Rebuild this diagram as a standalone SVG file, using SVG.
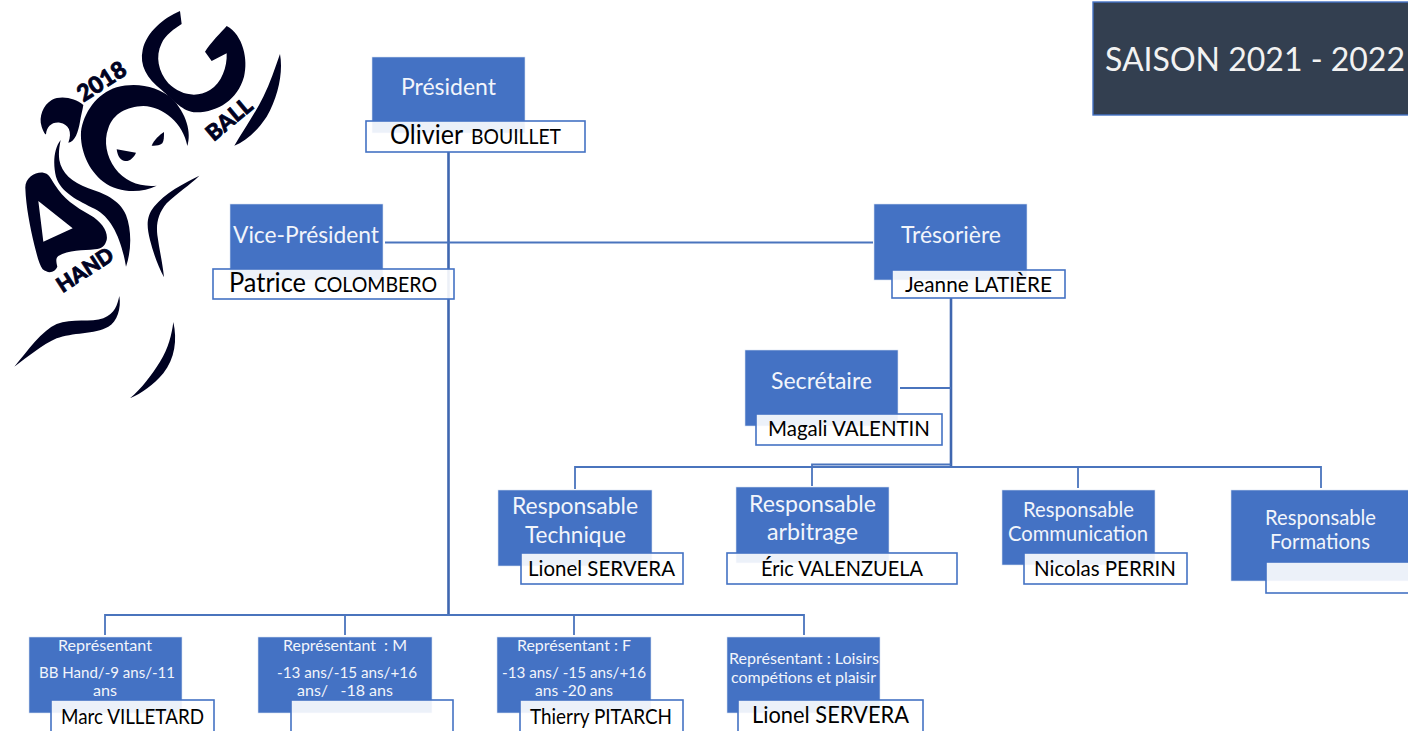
<svg xmlns="http://www.w3.org/2000/svg" width="1408" height="731" viewBox="0 0 1408 731">
<style>
text{font-family:"Lato","Carlito","Liberation Sans",sans-serif;text-anchor:start}
.b{fill:#4472C4;stroke:#D8E0F1;stroke-width:.6}
.w{fill:#fff;fill-opacity:.9;stroke:#4472C4;stroke-width:1.6}
.t{fill:#F2F5FB}
.n{fill:#000}
.c1{stroke:#3F67B0;stroke-width:2.600;fill:none}
.c2{stroke:#4A74BD;stroke-width:1.800;fill:none}
.logo{fill:#000222}
.lt{fill:#000222;stroke:#000222;stroke-width:.8;font-weight:900;text-anchor:middle}
</style>
<rect width="1408" height="731" fill="#fff"/>
<g id="logo">
<g class="logo" transform="scale(.33333)">
<path d="M540 33C490 55 440 95 428 150C418 195 440 235 485 270C520 300 550 338 590 337C655 335 712 300 732 230C745 180 730 105 680 78C665 95 630 130 615 155L635 183L680 160C682 200 665 250 630 270C590 295 540 285 505 250C475 215 465 170 485 130C495 105 525 85 545 72Z"/>
<path d="M840 162C850 215 835 290 800 350C770 395 735 425 703 437C730 390 760 350 790 290C810 250 825 205 840 162Z"/>
<path d="M562 438C575 400 560 340 515 295C475 260 410 245 350 262C290 280 250 340 243 395C240 450 265 510 310 545C355 580 425 580 470 557C420 562 375 545 345 505C320 470 310 425 325 385C340 340 380 320 430 318C490 320 550 370 562 438Z"/>
<path d="M250 315C225 295 185 285 155 300C130 315 115 350 125 380C130 395 135 403 138 403C140 380 155 365 180 368C205 372 218 395 205 428C225 425 235 395 240 365C243 345 248 330 250 315Z"/>
<path d="M350 448L408 458C402 472 390 484 375 483C358 482 352 462 350 448Z"/>
<path d="M492 396C492 410 492 422 487 430C478 437 465 438 455 437C462 420 478 405 492 396Z"/>
<path d="M182 420C162 445 158 490 168 530C183 578 235 602 285 627C335 652 365 720 378 800C395 750 395 690 378 645C358 598 310 580 265 565C215 545 185 520 178 480C175 460 178 440 182 420Z"/>
<path fill-rule="evenodd" d="M76 565C74 535 105 515 130 518C145 520 150 530 165 555C190 595 225 620 270 645C305 665 325 695 320 720C315 738 305 746 285 748C250 752 205 750 175 768C165 775 170 790 172 800C165 818 145 822 128 808C118 795 112 770 103 735C90 680 78 620 76 565ZM115 603L130 725L218 685Z"/>
<path d="M598 527C550 550 495 580 462 620C438 650 440 680 450 720C460 760 475 800 492 832C488 790 478 750 472 705C468 670 475 640 500 610C530 580 570 555 598 527Z"/>
<path d="M358 888C352 915 345 940 310 955C275 968 215 955 170 972C125 992 85 1050 43 1100C85 1070 125 1035 170 1015C215 997 285 1003 325 980C352 965 364 925 358 888Z"/>
<path d="M520 966C532 1020 525 1075 490 1120C460 1155 425 1180 390 1195C425 1165 455 1125 480 1085C505 1045 515 1005 520 966Z"/>
</g>
<text class="lt" font-size="23" transform="translate(106,88) rotate(-33)">2018</text>
<text class="lt" font-size="21" transform="translate(89,276) rotate(-33)">HAND</text>
<text class="lt" font-size="22" transform="translate(234,125) rotate(-40)">BALL</text>
</g>
<g id="connectors">
<path class="c1" d="M448.500 152V614M951 298V466"/>
<path class="c2" d="M385 242.500H873M900 388H951M575 489V467H1321V488M812 486V464.500H951M1078 488V467"/>
<path class="c2" d="M105 635V615H804V635M345 635V615M574 635V615"/>
</g>
<g id="saison">
<rect x="1093" y="2" width="320" height="113" fill="#333F50" stroke="#4472C4" stroke-width="1.400"/>
<text x="1105" y="71" font-size="32" fill="#F2F2F2" textLength="300" lengthAdjust="spacingAndGlyphs">SAISON 2021 - 2022</text>
</g>
<g id="president">
<rect class="b" x="372" y="57" width="153" height="76"/>
<rect class="w" x="366" y="121" width="219" height="31"/>
<text class="t" x="401" y="95" font-size="24" textLength="95" lengthAdjust="spacingAndGlyphs">Président</text>
<text class="n" x="390" y="144" font-size="26" textLength="73" lengthAdjust="spacingAndGlyphs">Olivier</text>
<text class="n" x="471" y="144" font-size="22" textLength="90" lengthAdjust="spacingAndGlyphs">BOUILLET</text>
</g>
<g id="vice-president">
<rect class="b" x="230" y="204" width="153" height="76"/>
<rect class="w" x="213" y="269" width="241" height="30"/>
<text class="t" x="233" y="243" font-size="24" textLength="146" lengthAdjust="spacingAndGlyphs">Vice-Président</text>
<text class="n" x="229" y="292" font-size="26" textLength="77" lengthAdjust="spacingAndGlyphs">Patrice</text>
<text class="n" x="314" y="292" font-size="22" textLength="123" lengthAdjust="spacingAndGlyphs">COLOMBERO</text>
</g>
<g id="tresoriere">
<rect class="b" x="874" y="204" width="153" height="76"/>
<rect class="w" x="892" y="270" width="173" height="28"/>
<text class="t" x="901" y="243" font-size="24" textLength="100" lengthAdjust="spacingAndGlyphs">Trésorière</text>
<text class="n" x="905" y="292" font-size="22" textLength="147" lengthAdjust="spacingAndGlyphs">Jeanne LATIÈRE</text>
</g>
<g id="secretaire">
<rect class="b" x="745" y="350" width="153" height="76"/>
<rect class="w" x="756" y="414" width="186" height="31"/>
<text class="t" x="771" y="389" font-size="24" textLength="101" lengthAdjust="spacingAndGlyphs">Secrétaire</text>
<text class="n" x="768" y="436" font-size="22" textLength="162" lengthAdjust="spacingAndGlyphs">Magali VALENTIN</text>
</g>
<g id="resp-technique">
<rect class="b" x="498" y="490" width="154" height="76"/>
<rect class="w" x="521" y="553" width="162" height="31"/>
<text class="t" x="512" y="514" font-size="24" textLength="126" lengthAdjust="spacingAndGlyphs">Responsable</text>
<text class="t" x="525" y="543" font-size="24" textLength="101" lengthAdjust="spacingAndGlyphs">Technique</text>
<text class="n" x="528" y="576" font-size="22" textLength="147" lengthAdjust="spacingAndGlyphs">Lionel SERVERA</text>
</g>
<g id="resp-arbitrage">
<rect class="b" x="736" y="487" width="153" height="76"/>
<rect class="w" x="727" y="553" width="230" height="31"/>
<text class="t" x="749" y="512" font-size="24" textLength="127" lengthAdjust="spacingAndGlyphs">Responsable</text>
<text class="t" x="767" y="540" font-size="24" textLength="91" lengthAdjust="spacingAndGlyphs">arbitrage</text>
<text class="n" x="761" y="576" font-size="22" textLength="162" lengthAdjust="spacingAndGlyphs">Éric VALENZUELA</text>
</g>
<g id="resp-communication">
<rect class="b" x="1002" y="490" width="153" height="75"/>
<rect class="w" x="1024" y="553" width="163" height="31"/>
<text class="t" x="1023" y="517" font-size="21" textLength="111" lengthAdjust="spacingAndGlyphs">Responsable</text>
<text class="t" x="1008" y="541" font-size="21" textLength="140" lengthAdjust="spacingAndGlyphs">Communication</text>
<text class="n" x="1034" y="576" font-size="22" textLength="142" lengthAdjust="spacingAndGlyphs">Nicolas PERRIN</text>
</g>
<g id="resp-formations">
<rect class="b" x="1231" y="490" width="190" height="91"/>
<rect class="w" x="1266" y="562" width="160" height="31"/>
<text class="t" x="1265" y="525" font-size="21" textLength="111" lengthAdjust="spacingAndGlyphs">Responsable</text>
<text class="t" x="1270" y="549" font-size="21" textLength="100" lengthAdjust="spacingAndGlyphs">Formations</text>
</g>
<g id="rep-bb">
<rect class="b" x="29" y="637" width="153" height="76"/>
<rect class="w" x="51" y="700" width="163" height="40"/>
<text class="t" x="58" y="651" font-size="15" textLength="94" lengthAdjust="spacingAndGlyphs">Représentant</text>
<text class="t" x="39" y="678" font-size="15" textLength="136" lengthAdjust="spacingAndGlyphs">BB Hand/-9 ans/-11</text>
<text class="t" x="93" y="696" font-size="15" textLength="24" lengthAdjust="spacingAndGlyphs">ans</text>
<text class="n" x="61" y="724" font-size="22" textLength="143" lengthAdjust="spacingAndGlyphs">Marc VILLETARD</text>
</g>
<g id="rep-m">
<rect class="b" x="258" y="637" width="174" height="76"/>
<rect class="w" x="291" y="700" width="162" height="40"/>
<text class="t" x="283" y="651" font-size="15" textLength="124" lengthAdjust="spacingAndGlyphs">Représentant &#160;: M</text>
<text class="t" x="277" y="678" font-size="15" textLength="140" lengthAdjust="spacingAndGlyphs">-13 ans/-15 ans/+16</text>
<text class="t" x="297" y="696" font-size="15" textLength="96" lengthAdjust="spacingAndGlyphs">ans/ &#160; -18 ans</text>
</g>
<g id="rep-f">
<rect class="b" x="497" y="637" width="154" height="76"/>
<rect class="w" x="520" y="700" width="163" height="40"/>
<text class="t" x="517" y="651" font-size="15" textLength="114" lengthAdjust="spacingAndGlyphs">Représentant : F</text>
<text class="t" x="502" y="678" font-size="15" textLength="144" lengthAdjust="spacingAndGlyphs">-13 ans/ -15 ans/+16</text>
<text class="t" x="535" y="696" font-size="15" textLength="78" lengthAdjust="spacingAndGlyphs">ans -20 ans</text>
<text class="n" x="530" y="724" font-size="22" textLength="142" lengthAdjust="spacingAndGlyphs">Thierry PITARCH</text>
</g>
<g id="rep-loisirs">
<rect class="b" x="727" y="637" width="153" height="76"/>
<rect class="w" x="738" y="700" width="185" height="40"/>
<text class="t" x="729" y="664" font-size="15" textLength="150" lengthAdjust="spacingAndGlyphs">Représentant : Loisirs</text>
<text class="t" x="731" y="683" font-size="15" textLength="145" lengthAdjust="spacingAndGlyphs">compétions et plaisir</text>
<text class="n" x="752" y="723" font-size="24" textLength="157" lengthAdjust="spacingAndGlyphs">Lionel SERVERA</text>
</g>
</svg>
